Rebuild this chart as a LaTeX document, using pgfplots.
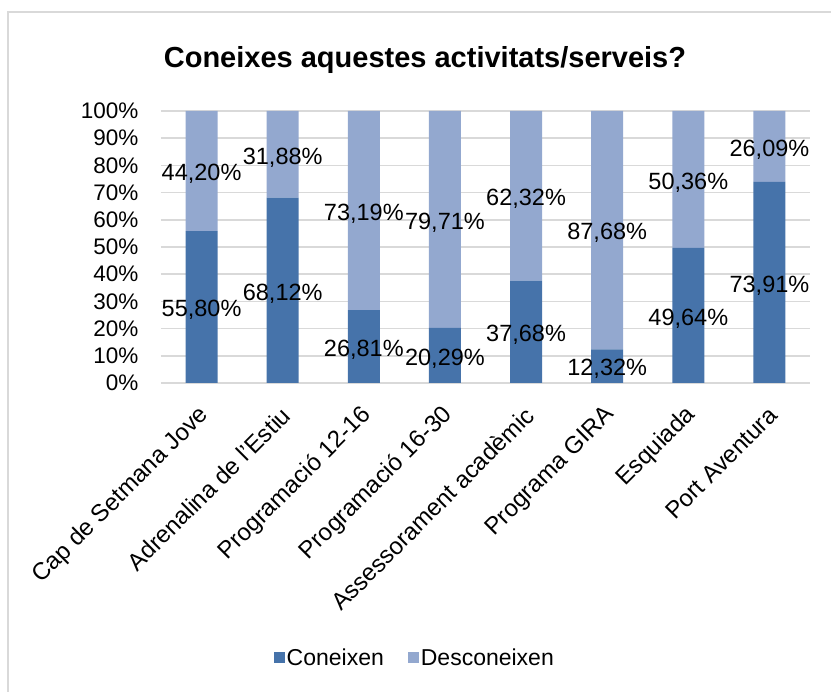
\documentclass[border=0pt]{standalone}
\usepackage{pgfplots}
\usepackage{pgfplotstable}
\pgfplotsset{compat=1.18}
\usepackage{fontspec}
\setmainfont{Liberation Sans}
\definecolor{cDark}{HTML}{4673AA}
\definecolor{cLight}{HTML}{93A8CF}
\definecolor{cGrid}{HTML}{D9D9D9}
\pgfplotstableread{
x con des
0 55.80 44.20
1 68.12 31.88
2 26.81 73.19
3 20.29 79.71
4 37.68 62.32
5 12.32 87.68
6 49.64 50.36
7 73.91 26.09
}\datatable
\begin{document}
\begin{tikzpicture}[x=1pt,y=1pt]
\useasboundingbox (0,0) rectangle (831,692);
\draw[cGrid, line width=2pt] (8,0) -- (8,680) -- (831,680);
\node[font=\fontsize{29}{34}\selectfont\bfseries] at (425,632) {Coneixes aquestes activitats/serveis?};
\begin{axis}[
  at={(161pt,309pt)}, anchor=south west,
  scale only axis, width=649pt, height=272pt,
  ybar stacked, bar width=32pt,
  xmin=-0.5, xmax=7.5, ymin=0, ymax=100,
  xtick={0,...,7},
  xticklabels={Cap de Setmana Jove, Adrenalina de l'Estiu, Programació 12-16, Programació 16-30, Assessorament acadèmic, Programa GIRA, Esquiada, Port Aventura},
  ytick={0,10,...,100},
  yticklabel={\pgfmathprintnumber{\tick}\%},
  /pgf/number format/assume math mode=true,
  ymajorgrids, major grid style={cGrid, line width=1.6pt},
  axis lines*=left,
  y axis line style={draw=none},
  x axis line style={cGrid, line width=1.6pt, -},
  tick style={draw=none},
  yticklabel style={font=\fontsize{22.5}{27}\selectfont, anchor=east, xshift=-19pt},
  xticklabel style={font=\fontsize{24}{28}\selectfont, xshift=6pt, yshift=-26pt, rotate=45, anchor=east},
  legend columns=2,
  legend style={draw=none, at={(0.391,-1.011)}, anchor=center, font=\fontsize{23}{27}\selectfont, /tikz/every even column/.append style={column sep=22pt}},
]
\addplot[fill=cDark, draw=none, legend image code/.code={\fill[cDark] (0pt,-5.5pt) rectangle (11pt,5.5pt);}] table[x=x, y=con] {\datatable};
\addlegendentry{Coneixen}
\addplot[fill=cLight, draw=none, legend image code/.code={\fill[cLight] (0pt,-5.5pt) rectangle (11pt,5.5pt);}] table[x=x, y=des] {\datatable};
\addlegendentry{Desconeixen}
\end{axis}
\begin{axis}[
  at={(161pt,309pt)}, anchor=south west,
  scale only axis, width=649pt, height=272pt,
  xmin=-0.5, xmax=7.5, ymin=0, ymax=100,
  hide axis,
  /pgf/number format/assume math mode=true,
  every node near coord/.append style={anchor=center, font=\fontsize{23.5}{28}\selectfont, black, yshift=-3pt},
]
\addplot[draw=none, mark=none, point meta=\thisrow{con},
  nodes near coords={\pgfmathprintnumber[fixed,fixed zerofill,precision=2,use comma]{\pgfplotspointmeta}\%}]
  table[x=x, y expr=\thisrow{con}/2] {\datatable};
\addplot[draw=none, mark=none, point meta=\thisrow{des},
  nodes near coords={\pgfmathprintnumber[fixed,fixed zerofill,precision=2,use comma]{\pgfplotspointmeta}\%}]
  table[x=x, y expr=\thisrow{con}+\thisrow{des}/2] {\datatable};
\end{axis}
\end{tikzpicture}
\end{document}
